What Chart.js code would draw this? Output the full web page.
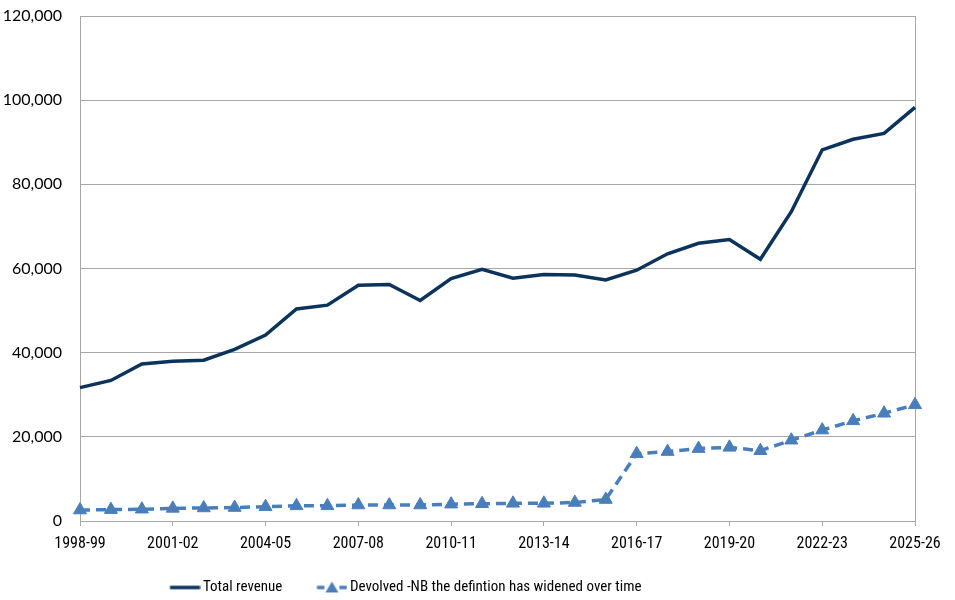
<!DOCTYPE html>
<html>
<head>
<meta charset="utf-8">
<script src="https://cdn.jsdelivr.net/npm/chart.js@4.4.1/dist/chart.umd.min.js"></script>
<style>
  html, body { margin: 0; padding: 0; background: #ffffff; }
  #wrap { width: 955px; height: 600px; position: relative; }
</style>
</head>
<body>
<div id="wrap"><canvas id="c" width="955" height="600"></canvas></div>
<script>
const categories = ['1998-99','1999-00','2000-01','2001-02','2002-03','2003-04','2004-05','2005-06','2006-07','2007-08',
  '2008-09','2009-10','2010-11','2011-12','2012-13','2013-14','2014-15','2015-16','2016-17','2017-18',
  '2018-19','2019-20','2020-21','2021-22','2022-23','2023-24','2024-25','2025-26'];
const totalRevenue = [31700, 33400, 37300, 37950, 38200, 40800, 44200, 50400, 51300, 56000,
  56200, 52400, 57600, 59800, 57700, 58600, 58450, 57300, 59600, 63500,
  66000, 66900, 62200, 73500, 88200, 90700, 92100, 98300];
const devolved = [2600, 2700, 2800, 3000, 3100, 3200, 3400, 3600, 3600, 3800,
  3800, 3800, 4000, 4100, 4200, 4200, 4400, 5100, 16000, 16500,
  17200, 17500, 16700, 19200, 21600, 23800, 25600, 27600];
const yTicks = [0, 20000, 40000, 60000, 80000, 100000, 120000];
const seriesNames = ['Total revenue', 'Devolved -NB the defintion has widened over time'];

const NAVY = '#0c335c';
const BLUE = '#4a7ebb';
const GRID = '#a6a6a6';
const NARROW = "'Roboto Condensed', 'Noto Sans Condensed', 'Open Sans Condensed', 'Lato Condensed', Lato, sans-serif";

function makeSwatch(kind) {
  const cv = document.createElement('canvas');
  cv.width = 60; cv.height = 16;
  const g = cv.getContext('2d');
  g.lineWidth = 3.5;
  if (kind === 0) {
    g.strokeStyle = NAVY;
    g.beginPath(); g.moveTo(29.5, 8); g.lineTo(59.5, 8); g.stroke();
  } else {
    g.strokeStyle = BLUE;
    g.beginPath(); g.moveTo(29.5, 8); g.lineTo(37, 8); g.moveTo(52, 8); g.lineTo(59.5, 8); g.stroke();
    g.fillStyle = BLUE;
    g.beginPath(); g.moveTo(44.5, 2); g.lineTo(51, 13); g.lineTo(38, 13); g.closePath(); g.fill();
  }
  return cv;
}
const swatches = [makeSwatch(0), makeSwatch(1)];

const legendShift = {
  id: 'legendShift',
  afterLayout(chart) {
    const l = chart.legend;
    if (l) { l.left += 135.5; l.right += 135.5; l.top += 5; l.bottom += 5; }
  }
};

new Chart(document.getElementById('c'), {
  type: 'line',
  data: {
    labels: categories,
    datasets: [
      {
        label: seriesNames[0],
        data: totalRevenue,
        borderColor: NAVY,
        backgroundColor: NAVY,
        borderWidth: 3.5,
        pointRadius: 0,
        pointHoverRadius: 0,
        tension: 0,
        fill: false
      },
      {
        label: seriesNames[1],
        data: devolved,
        borderColor: BLUE,
        backgroundColor: BLUE,
        borderWidth: 3.5,
        borderDash: [10, 6],
        pointStyle: 'triangle',
        pointRadius: 7.5,
        pointBackgroundColor: BLUE,
        pointBorderColor: BLUE,
        pointBorderWidth: 1,
        tension: 0,
        fill: false
      }
    ]
  },
  plugins: [legendShift],
  options: {
    responsive: false,
    animation: false,
    devicePixelRatio: 1,
    layout: { padding: { left: 0, right: 40, top: 16, bottom: 0 } },
    plugins: {
      tooltip: { enabled: false },
      legend: {
        position: 'bottom',
        align: 'start',
        labels: {
          usePointStyle: true,
          pointStyleWidth: 50,
          padding: 10,
          color: '#000000',
          font: { family: NARROW, size: 15 },
          generateLabels(chart) {
            return chart.data.datasets.map((ds, i) => ({
              text: ds.label,
              pointStyle: swatches[i],
              fillStyle: ds.borderColor,
              strokeStyle: ds.borderColor,
              lineWidth: 0,
              hidden: false,
              datasetIndex: i,
              fontColor: '#000000'
            }));
          }
        }
      }
    },
    scales: {
      x: {
        type: 'category',
        offset: false,
        afterFit(scale) { scale.height = 44; },
        border: { display: true, color: GRID, width: 1 },
        grid: {
          display: true,
          drawOnChartArea: true,
          tickLength: 5,
          color: (ctx) => (ctx.index === categories.length - 1 ? GRID : 'rgba(0,0,0,0)'),
          tickColor: (ctx) => (ctx.index % 3 === 0 ? GRID : 'rgba(0,0,0,0)')
        },
        ticks: {
          autoSkip: false,
          maxRotation: 0,
          minRotation: 0,
          padding: 8,
          color: '#000000',
          font: { family: NARROW, size: 16 },
          callback(v, i) { return i % 3 === 0 ? categories[i] : ''; }
        }
      },
      y: {
        min: 0,
        max: 120000,
        afterFit(scale) { scale.width = 80; },
        afterBuildTicks(scale) { scale.ticks = yTicks.map(v => ({ value: v })); },
        border: { display: true, color: GRID, width: 1 },
        grid: { color: GRID, lineWidth: 1, drawTicks: true, tickLength: 18, tickColor: 'rgba(0,0,0,0)' },
        ticks: {
          padding: 0,
          color: '#000000',
          font: { family: "Lato, 'Open Sans', sans-serif", size: 16 },
          callback(v) { return v.toLocaleString('en-US'); }
        }
      }
    }
  }
});
</script>
</body>
</html>
